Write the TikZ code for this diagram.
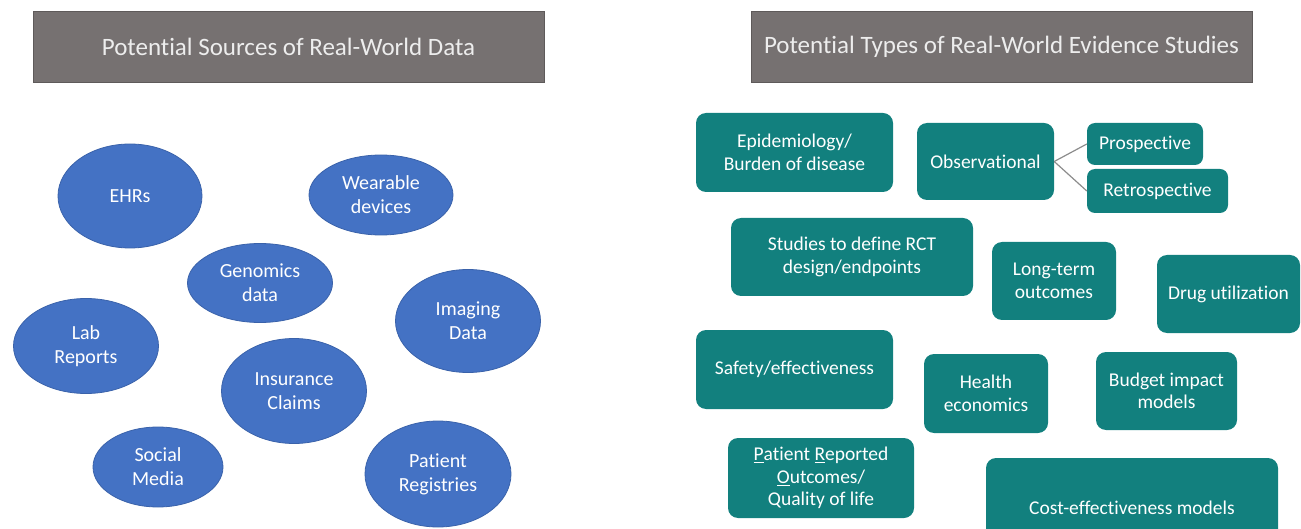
\documentclass[tikz,border=0pt]{standalone}
\usepackage{fontspec}
\setmainfont[Ligatures=NoCommon]{Carlito}
\usetikzlibrary{positioning,shapes.geometric}

\definecolor{titlegray}{HTML}{767171}
\definecolor{titletext}{HTML}{EDEDED}
\definecolor{srcblue}{HTML}{4472C4}
\definecolor{srcedge}{HTML}{3A62AA}
\definecolor{studyteal}{HTML}{12807E}
\definecolor{linkgray}{HTML}{8C8C8C}

\begin{document}
\begin{tikzpicture}[
      x = 1pt,
      y = -1pt,
      titlebox/.style = {fill=titlegray, draw=titlegray!80!black, line width=0.6pt,
        text=titletext, inner sep=0pt, font=\fontsize{25}{29}\selectfont},
      source/.style = {ellipse, fill=srcblue, draw=srcedge, line width=0.8pt,
        text=white, inner sep=0pt, align=center, font=\fontsize{20}{24}\selectfont},
      study/.style = {rectangle, rounded corners=10pt, fill=studyteal, text=white,
        inner sep=0pt, align=center, font=\fontsize{19.5}{22.5}\selectfont},
  ]

  \useasboundingbox (0,0) rectangle (1301,529);

  % headers
  \node[titlebox, minimum width=511, minimum height=71] (srctitle) at (288.5,46.5)
    {Potential Sources of Real-World Data};
  \node[titlebox, minimum width=501, minimum height=71] (typtitle) at (1001.5,46.5)
    {Potential Types of Real-World Evidence Studies};

  % data sources
  \node[source, minimum width=144, minimum height=104] (ehr) at (130,196) {EHRs};
  \node[source, minimum width=144, minimum height=80] (wear) at (381,195) {Wearable\\devices};
  \node[source, minimum width=145, minimum height=79] (geno) at (260,283) {Genomics\\data};
  \node[source, minimum width=145, minimum height=95] (lab) at (86,346) {Lab\\Reports};
  \node[source, minimum width=145, minimum height=103] (img) at (468,321) {Imaging\\Data};
  \node[source, minimum width=145, minimum height=105] (ins) at (294,391) {Insurance\\Claims};
  \node[source, minimum width=130, minimum height=80] (soc) at (158,467) {Social\\Media};
  \node[source, minimum width=146, minimum height=106] (reg) at (438,474) {Patient\\Registries};

  % study types
  \node[study, minimum width=197, minimum height=79] (epi) at (794.5,152.5) {Epidemiology/\\Burden of disease};
  \node[study, minimum width=137, minimum height=77] (obs) at (985.5,161.5) {Observational};
  \node[study, minimum width=116, minimum height=42, rounded corners=8pt] (pros) at (1145,144) {Prospective};
  \node[study, minimum width=141, minimum height=44, rounded corners=8pt] (retro) at (1157.5,191) {Retrospective};
  \node[study, minimum width=242, minimum height=78] (rct) at (852,257) {Studies to define RCT\\design/endpoints};
  \node[study, minimum width=124, minimum height=78] (lto) at (1054,281) {Long-term\\outcomes};
  \node[study, minimum width=143, minimum height=78] (drug) at (1228.5,294) {Drug utilization};
  \node[study, minimum width=197, minimum height=79] (safe) at (794.5,369.5) {Safety/effectiveness};
  \node[study, minimum width=124, minimum height=79] (heco) at (986,393.5) {Health\\economics};
  \node[study, minimum width=141, minimum height=78] (budg) at (1166.5,391) {Budget impact\\models};
  \node[study, minimum width=186, minimum height=80] (pro) at (821,478)
    {\underline{P}atient \underline{R}eported\\\underline{O}utcomes/\\Quality of life};
  \node[study, minimum width=292, minimum height=100] (cem) at (1132,508) {Cost-effectiveness models};

  \draw [linkgray, line width=1.2pt] (obs.east) -- (pros.west);
  \draw [linkgray, line width=1.2pt] (obs.east) -- (retro.west);

  \end{tikzpicture}
\end{document}
